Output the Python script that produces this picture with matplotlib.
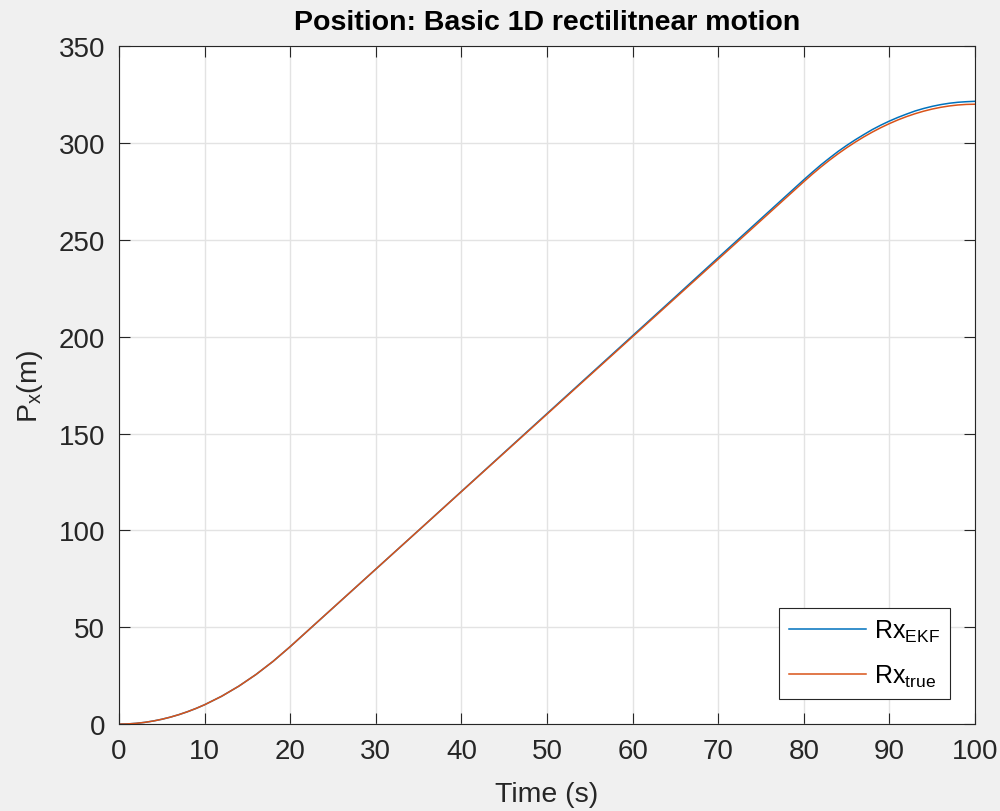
import matplotlib.pyplot as plt

plt.rcParams['font.family'] = ['Liberation Sans', 'DejaVu Sans']
plt.rcParams['mathtext.fontset'] = 'custom'
plt.rcParams['mathtext.rm'] = 'Liberation Sans'
plt.rcParams['mathtext.it'] = 'Liberation Sans'

# values (time in s, position in m)
t = [0, 1, 2, 3, 4, 5, 6, 7, 8, 9, 10, 12, 14, 16, 18, 20, 25, 30, 35, 40, 45,
     50, 55, 60, 65, 70, 75, 80, 81, 82, 83, 84, 85, 86, 87, 88, 89, 90, 91,
     92, 93, 94, 95, 96, 97, 98, 99, 100]
rx_true = [0, 0.1, 0.4, 0.9, 1.6, 2.5, 3.6, 4.9, 6.4, 8.1, 10, 14.4, 19.6,
           25.6, 32.4, 40, 60, 80, 100, 120, 140, 160, 180, 200, 220, 240,
           260, 280, 283.9, 287.6, 291.1, 294.4, 297.5, 300.4, 303.1, 305.6,
           307.9, 310, 311.9, 313.6, 315.1, 316.4, 317.5, 318.4, 319.1, 319.6,
           319.9, 320]
rx_ekf = [0, 0.1, 0.4, 0.9, 1.6, 2.5, 3.6, 4.9, 6.4, 8.1, 10, 14.4, 19.6,
          25.6, 32.4, 40, 60, 80, 100, 120.1, 140.2, 160.3, 180.4, 200.5,
          220.6, 240.8, 260.9, 281.0, 284.9, 288.7, 292.2, 295.6, 298.7,
          301.6, 304.3, 306.9, 309.2, 311.3, 313.2, 314.9, 316.5, 317.8,
          318.9, 319.8, 320.5, 321.0, 321.3, 321.5]

fig = plt.figure(figsize=(10, 8.12), dpi=100, facecolor='#f0f0f0')
ax = fig.add_axes([0.119, 0.107, 0.856, 0.835])
ax.set_facecolor('white')

ax.plot(t, rx_ekf, color='#0072BD', lw=1.1, label=r'Rx$_{\mathregular{EKF}}$')
ax.plot(t, rx_true, color='#D95319', lw=1.1, label=r'Rx$_{\mathregular{true}}$')

ax.set_xlim(0, 100)
ax.set_ylim(0, 350)
ax.set_xticks(range(0, 101, 10))
ax.set_yticks(range(0, 351, 50))
ax.grid(True, color='#e3e3e3', lw=1)
ax.set_axisbelow(True)
ax.tick_params(direction='in', top=True, right=True, length=8, width=0.8,
               colors='#262626', labelsize=20, pad=10)
for s in ax.spines.values():
    s.set_color('#262626')
    s.set_linewidth(0.8)

ax.set_xlabel('Time (s)', fontsize=20.5, color='#262626', labelpad=12)
ax.set_ylabel(r'P$_{\mathregular{x}}$(m)', fontsize=20.5, color='#262626', labelpad=10)
ax.set_title('Position: Basic 1D rectilitnear motion', fontsize=20.5,
             fontweight='bold', pad=12)

leg = ax.legend(loc='lower right', fontsize=18, frameon=True, fancybox=False,
                edgecolor='#262626', framealpha=1, handlelength=3.1,
                handletextpad=0.3, borderaxespad=1.0, labelspacing=0.75,
                borderpad=0.4)
leg.get_frame().set_linewidth(0.8)

fig.savefig('out.png', dpi=100, facecolor=fig.get_facecolor())
